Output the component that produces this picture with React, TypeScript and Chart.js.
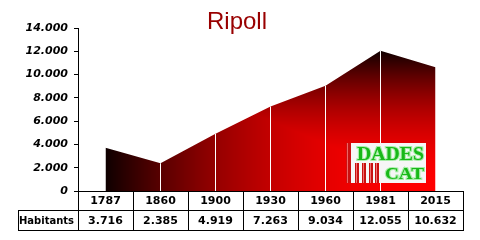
import { useEffect, useRef } from 'react';
import { Chart, registerables } from 'chart.js';

Chart.register(...registerables);

const titleText = 'Ripoll';
const categories = ['1787', '1860', '1900', '1930', '1960', '1981', '2015'];
const habitants = [3716, 2385, 4919, 7263, 9034, 12055, 10632];
const rowLabel = 'Habitants';
const yMin = 0;
const yMax = 14000;
const yStep = 2000;

const fmt = (v: number) => String(Math.round(v)).replace(/\B(?=(\d{3})+(?!\d))/g, '.');

let patternCache: { key: string; pattern: CanvasPattern | null } | null = null;

function makePattern(chart: any) {
  const xs = chart.scales.x;
  const ys = chart.scales.y;
  if (!xs || !ys) return '#cc0000';
  const x0 = xs.getPixelForValue(0);
  const x1 = xs.getPixelForValue(categories.length - 1);
  const yTop = ys.getPixelForValue(Math.max(...habitants));
  const yBot = ys.getPixelForValue(0);
  const key = [x0, x1, yTop, yBot, chart.width, chart.height].join(',');
  if (patternCache && patternCache.key === key) return patternCache.pattern;
  const W = chart.width;
  const H = chart.height;
  const off = document.createElement('canvas');
  off.width = W;
  off.height = H;
  const octx = off.getContext('2d')!;
  const img = octx.createImageData(W, H);
  for (let y = 0; y < H; y++) {
    const v = (y + 0.5 - yTop) / (yBot - yTop);
    for (let x = 0; x < W; x++) {
      const u = (x + 0.5 - x0) / (x1 - x0);
      let m = Math.min(u, v);
      m = Math.max(0, Math.min(1, m));
      const r = 14 + 241 * (1 - (1 - m) * (1 - m));
      const i = (y * W + x) * 4;
      img.data[i] = r;
      img.data[i + 1] = 0;
      img.data[i + 2] = 0;
      img.data[i + 3] = 255;
    }
  }
  octx.putImageData(img, 0, 0);
  const pattern = chart.ctx.createPattern(off, 'no-repeat');
  patternCache = { key, pattern };
  return pattern;
}

const overlayPlugin = {
  id: 'overlay',
  afterDatasetsDraw(chart: any) {
    const ctx = chart.ctx;
    const xs = chart.scales.x;
    const ys = chart.scales.y;
    const meta = chart.getDatasetMeta(0);
    const yBot = ys.getPixelForValue(0);
    ctx.save();
    ctx.strokeStyle = '#ffffff';
    ctx.lineWidth = 1;
    for (let i = 1; i < categories.length - 1; i++) {
      const x = Math.floor(xs.getPixelForValue(i)) + 0.5;
      const y = meta.data[i].y;
      ctx.beginPath();
      ctx.moveTo(x, y);
      ctx.lineTo(x, yBot);
      ctx.stroke();
    }
    ctx.restore();

    // logo
    ctx.save();
    const lx = 346, ly = 143, lw = 80, lh = 40;
    ctx.fillStyle = '#f6f6f6';
    ctx.fillRect(lx, ly, lw, lh);
    ctx.fillStyle = '#cc1010';
    ctx.fillRect(lx, ly, 5, lh);
    ctx.fillStyle = '#ee6666';
    ctx.fillRect(lx + 1, ly, 1, lh);
    const bx = [355, 362, 369, 375];
    for (const b of bx) {
      ctx.fillStyle = '#c81010';
      ctx.fillRect(b, 163, 4, 20);
      ctx.fillStyle = '#f07070';
      ctx.fillRect(b + 1, 163, 1, 20);
    }
    ctx.font = 'bold 18px "Liberation Serif"';
    ctx.textBaseline = 'alphabetic';
    ctx.textAlign = 'left';
    const drawFit = (t: string, x: number, y: number, w: number) => {
      const mw = ctx.measureText(t).width;
      ctx.save();
      ctx.translate(x, y);
      ctx.scale(w / mw, 1);
      ctx.lineWidth = 2;
      ctx.strokeStyle = '#a8eea8';
      ctx.strokeText(t, 0, 0);
      ctx.fillStyle = '#18b818';
      ctx.fillText(t, 0, 0);
      ctx.restore();
    };
    drawFit('DADES', 357, 160, 67);
    ctx.font = 'bold 16px "Liberation Serif"';
    drawFit('CAT', 385, 179, 39);
    ctx.restore();
  },
  afterDraw(chart: any) {
    const ctx = chart.ctx;
    const xs = chart.scales.x;
    const area = chart.chartArea;
    const n = categories.length;
    const colW = (area.right - area.left) / n;
    const top = area.bottom;
    const r1 = 210;
    const r2 = 230;
    const labelLeft = 18;
    ctx.save();
    ctx.strokeStyle = '#000000';
    ctx.lineWidth = 1;
    ctx.beginPath();
    const h = (y: number, xa: number, xb: number) => {
      ctx.moveTo(xa, y + 0.5);
      ctx.lineTo(xb + 1, y + 0.5);
    };
    const v = (x: number, ya: number, yb: number) => {
      ctx.moveTo(x + 0.5, ya);
      ctx.lineTo(x + 0.5, yb + 1);
    };
    const L = Math.round(area.left);
    const R = Math.round(area.right);
    h(Math.round(top), L, R);
    h(r1, labelLeft, R);
    h(r2, labelLeft, R);
    for (let i = 0; i <= n; i++) {
      const x = Math.round(area.left + i * colW);
      v(x, Math.round(top), r2);
    }
    v(labelLeft, r1, r2);
    ctx.stroke();

    ctx.fillStyle = '#000000';
    ctx.font = 'bold 11px "DejaVu Sans"';
    ctx.textBaseline = 'middle';
    ctx.textAlign = 'center';
    for (let i = 0; i < n; i++) {
      const cx = xs.getPixelForValue(i);
      ctx.fillText(categories[i], cx, (top + r1) / 2 + 1);
      ctx.fillText(fmt(habitants[i]), cx, (r1 + r2) / 2 + 1);
    }
    ctx.textAlign = 'left';
    const lwMeasured = ctx.measureText(rowLabel).width;
    ctx.save();
    ctx.translate(labelLeft + 1, (r1 + r2) / 2 + 1);
    ctx.scale(Math.min(1, 55 / lwMeasured), 1);
    ctx.fillText(rowLabel, 0, 0);
    ctx.restore();

    ctx.font = '24px "Liberation Sans"';
    ctx.fillStyle = '#990000';
    ctx.textAlign = 'center';
    ctx.textBaseline = 'alphabetic';
    ctx.fillText(titleText, 237, 29);
    ctx.restore();
  },
};

export default function App() {
  const ref = useRef<HTMLCanvasElement>(null);
  useEffect(() => {
    if (!ref.current) return;
    const chart = new Chart(ref.current, {
      type: 'line',
      data: {
        labels: categories,
        datasets: [
          {
            data: habitants,
            fill: 'origin',
            borderWidth: 0,
            borderColor: 'rgba(0,0,0,0)',
            pointRadius: 0,
            tension: 0,
            backgroundColor: (c: any) => makePattern(c.chart),
          },
        ],
      },
      options: {
        animation: false,
        responsive: false,
        maintainAspectRatio: false,
        layout: { padding: { left: 0, right: 17, top: 28, bottom: 49 } },
        plugins: {
          legend: { display: false },
          title: { display: false },
          tooltip: { enabled: false },
        },
        scales: {
          x: {
            type: 'category',
            display: false,
            offset: true,
          },
          y: {
            min: yMin,
            max: yMax,
            afterFit: (s: any) => {
              s.width = 78;
            },
            ticks: {
              stepSize: yStep,
              color: '#000000',
              padding: 6,
              font: { family: '"DejaVu Sans"', size: 11, weight: 'bold', style: 'italic' },
              callback: (val: any) => fmt(Number(val)),
            },
            grid: {
              display: true,
              drawOnChartArea: false,
              drawTicks: true,
              tickLength: 4,
              color: '#000000',
            },
            border: { display: true, color: '#000000', width: 1 },
          },
        },
      },
      plugins: [overlayPlugin],
    });
    return () => chart.destroy();
  }, []);
  return (
    <div style={{ position: 'absolute', left: 0, top: 0, width: 480, height: 240 }}>
      <canvas ref={ref} width={480} height={240} style={{ width: 480, height: 240 }} />
    </div>
  );
}
